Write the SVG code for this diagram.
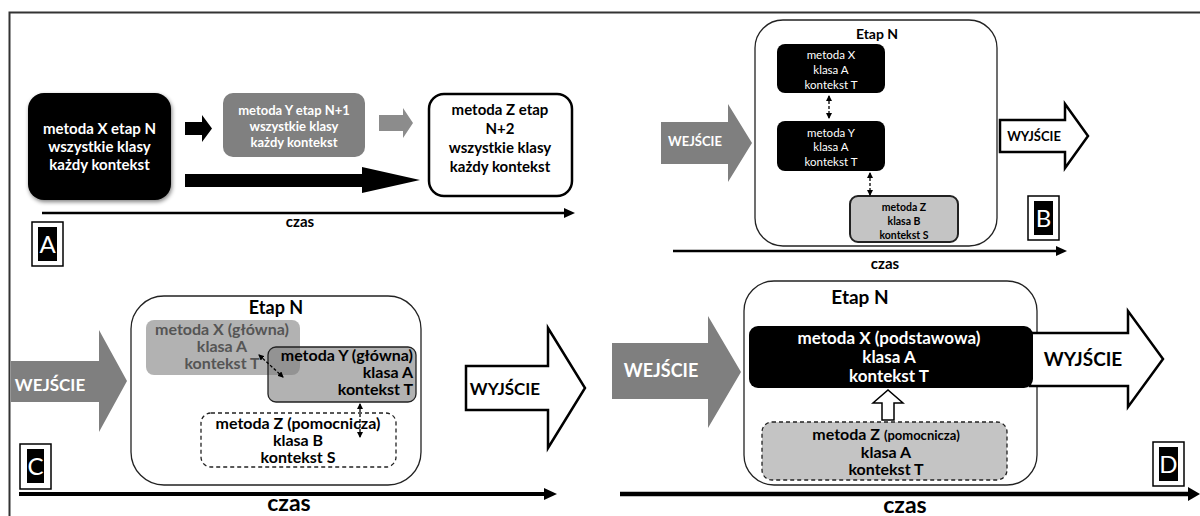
<svg xmlns="http://www.w3.org/2000/svg" width="1200" height="516" viewBox="0 0 1200 516">
<defs>
<style>
text{font-family:Lato,"Liberation Sans",sans-serif;text-anchor:middle}
.b{font-weight:bold}
.w{fill:#fff}
.g{fill:#555}
.frame{stroke:#333;stroke-width:2;fill:none}
.axis{stroke:#000;fill:none}
.cont{fill:#fff;stroke:#222;stroke-width:1.3}
.lo{fill:#fff;stroke:#000;stroke-width:1.5}
.li{fill:#000}
.lt{fill:#fff;font-family:Lato,"Liberation Sans",sans-serif;font-size:24px;font-weight:normal}
.dash{stroke:#000;stroke-width:1.3;stroke-dasharray:3 2;fill:none}
.gray{fill:#7f7f7f}
.out{fill:#fff;stroke:#000;stroke-width:2.5;stroke-linejoin:miter}
</style>
<marker id="dh" viewBox="0 0 6 6" refX="5" refY="3" markerWidth="6" markerHeight="6" markerUnits="userSpaceOnUse" orient="auto-start-reverse">
<path d="M0,0 L6,3 L0,6 z" fill="#000"/>
</marker>
<filter id="sh" x="-10%" y="-10%" width="130%" height="130%">
<feGaussianBlur in="SourceAlpha" stdDeviation="2"/>
<feOffset dx="1" dy="2"/>
<feComponentTransfer><feFuncA type="linear" slope="0.5"/></feComponentTransfer>
<feMerge><feMergeNode/><feMergeNode in="SourceGraphic"/></feMerge>
</filter>
</defs>

<rect width="1200" height="516" fill="#fff"/>
<path class="frame" d="M9.5,516 L9.5,12.5 L1200,12.5"/>

<!-- Panel A -->
<g id="a-x">
<rect x="28" y="93" width="143" height="107" rx="16" fill="#000" filter="url(#sh)"/>
<text class="b w" font-size="15"><tspan x="99.5" y="134">metoda X etap N</tspan><tspan x="99.5" y="152">wszystkie klasy</tspan><tspan x="99.5" y="170">każdy kontekst</tspan></text>
</g>
<g id="a-y">
<rect x="223" y="93" width="142" height="64" rx="10" fill="#808080"/>
<text class="b w" font-size="13"><tspan x="294" y="114.5">metoda Y etap N+1</tspan><tspan x="294" y="130.5">wszystkie klasy</tspan><tspan x="294" y="146.5">każdy kontekst</tspan></text>
</g>
<g id="a-z">
<rect x="429" y="94" width="143" height="102" rx="15" fill="#fff" stroke="#000" stroke-width="2.5"/>
<text class="b" font-size="15"><tspan x="500" y="115">metoda Z etap</tspan><tspan x="500" y="134">N+2</tspan><tspan x="500" y="153">wszystkie klasy</tspan><tspan x="500" y="172">każdy kontekst</tspan></text>
</g>
<g id="a-label">
<rect class="lo" x="32" y="222" width="31" height="44"/>
<rect class="li" x="38" y="227" width="19" height="34"/>
<text class="lt" x="47.5" y="253">A</text>
</g>

<!-- Panel B -->
<g id="b-stage">
<rect class="cont" x="755" y="20" width="242" height="226" rx="28"/>
<text class="b" font-size="14" x="877" y="39">Etap N</text>
</g>
<g id="b-x">
<rect x="777" y="44" width="108" height="49" rx="8" fill="#000"/>
<text class="w" font-size="11.5"><tspan x="831" y="59">metoda X</tspan><tspan x="831" y="74">klasa A</tspan><tspan x="831" y="89">kontekst T</tspan></text>
</g>
<g id="b-y">
<rect x="777" y="121" width="108" height="50" rx="8" fill="#000"/>
<text class="w" font-size="11.5"><tspan x="831" y="137">metoda Y</tspan><tspan x="831" y="151">klasa A</tspan><tspan x="831" y="166">kontekst T</tspan></text>
</g>
<g id="b-z">
<rect x="850" y="196" width="108" height="46" rx="8" fill="#c4c4c4" stroke="#222" stroke-width="2"/>
<text class="b" font-size="10.5"><tspan x="904" y="211">metoda Z</tspan><tspan x="904" y="225">klasa B</tspan><tspan x="904" y="239">kontekst S</tspan></text>
</g>
<g id="b-in">
<polygon class="gray" points="661,122 728,122 728,104 752,143 728,182 728,164 661,164"/>
<text class="b w" font-size="13" x="695" y="146">WEJŚCIE</text>
</g>
<g id="b-out">
<polygon class="out" points="1000,120 1065,120 1065,104 1088,136 1065,168 1065,152 1000,152"/>
<text class="b" font-size="13" x="1034" y="141">WYJŚCIE</text>
</g>
<g id="b-label">
<rect class="lo" x="1028" y="196" width="31" height="44"/>
<rect class="li" x="1034" y="201" width="19" height="34"/>
<text class="lt" x="1043.5" y="227">B</text>
</g>

<!-- Panel C -->
<g id="c-stage">
<rect class="cont" x="131" y="296" width="290" height="189" rx="33"/>
<text class="b" font-size="18" x="276" y="314">Etap N</text>
</g>
<g id="c-x">
<rect x="146" y="320" width="154" height="55" rx="8" fill="#7f7f7f" fill-opacity="0.6"/>
</g>
<g id="c-y">
<rect x="268" y="347" width="148" height="55" rx="8" fill="#7f7f7f" fill-opacity="0.6" stroke="#222" stroke-width="1.3"/>
<text class="b" font-size="16" style="text-anchor:end"><tspan x="413" y="361">metoda Y (główna)</tspan><tspan x="413" y="378">klasa A</tspan><tspan x="413" y="395">kontekst T</tspan></text>
</g>
<g id="c-x-text">
<text class="b g" font-size="16"><tspan x="222" y="335">metoda X (główna)</tspan><tspan x="222" y="352">klasa A</tspan><tspan x="222" y="369">kontekst T</tspan></text>
</g>
<g id="c-z">
<rect x="201" y="413" width="195" height="54" rx="10" fill="#fff" stroke="#222" stroke-width="1.3" stroke-dasharray="4 3"/>
<text class="b" font-size="16"><tspan x="298" y="429">metoda Z (pomocnicza)</tspan><tspan x="298" y="446">klasa B</tspan><tspan x="298" y="463">kontekst S</tspan></text>
</g>
<g id="c-in">
<polygon class="gray" points="11,361 99,361 99,330 127,381 99,432 99,402 11,402"/>
<text class="b w" font-size="17" x="50" y="391">WEJŚCIE</text>
</g>
<g id="c-out">
<polygon class="out" points="466,366 548,366 548,328 585,388 548,448 548,410 466,410"/>
<text class="b" font-size="17" x="505" y="395">WYJŚCIE</text>
</g>
<g id="c-label">
<rect class="lo" x="20" y="444" width="31" height="45"/>
<rect class="li" x="27" y="449" width="17" height="34"/>
<text class="lt" x="35.5" y="475">C</text>
</g>

<!-- Panel D -->
<g id="d-stage">
<rect class="cont" x="744" y="281" width="293" height="204" rx="30"/>
<text class="b" font-size="19" x="860" y="304">Etap N</text>
</g>
<g id="d-out">
<polygon class="out" points="1030,333 1128,333 1128,311 1163,359 1128,407 1128,386 1030,386"/>
<text class="b" font-size="19" x="1083" y="366">WYJŚCIE</text>
</g>
<g id="d-x">
<rect x="749" y="326" width="284" height="62" rx="9" fill="#000"/>
<text class="b w" font-size="17"><tspan x="889" y="344">metoda X (podstawowa)</tspan><tspan x="889" y="363">klasa A</tspan><tspan x="889" y="382">kontekst T</tspan></text>
</g>
<g id="d-z">
<rect x="762" y="422" width="245" height="58" rx="10" fill="#c4c4c4" stroke="#222" stroke-width="1.3" stroke-dasharray="4 3"/>
<text class="b" font-size="16"><tspan x="886" y="440">metoda Z <tspan font-size="13">(pomocnicza)</tspan></tspan><tspan x="886" y="457.5">klasa A</tspan><tspan x="886" y="475">kontekst T</tspan></text>
</g>
<g id="d-in">
<polygon class="gray" points="612,343 708,343 708,316 741,372 708,428 708,399 612,399"/>
<text class="b w" font-size="18" x="661" y="377">WEJŚCIE</text>
</g>
<g id="d-label">
<rect class="lo" x="1153" y="442" width="31" height="44"/>
<rect class="li" x="1159" y="447" width="19" height="34"/>
<text class="lt" x="1168.5" y="473">D</text>
</g>

<!-- connectors -->
<g id="connectors">
<polygon points="185,122 202,122 202,115 212,128.5 202,142 202,135 185,135" fill="#000"/>
<polygon points="379,115 403,115 403,108 413,123 403,138 403,131 379,131" fill="#8c8c8c"/>
<polygon points="185,174 362,174 362,167 420,180 362,193 362,187 185,187" fill="#000"/>
<line class="axis" x1="42" y1="213" x2="566" y2="213" stroke-width="2.5"/>
<polygon points="564,208 575,213 564,218" fill="#000"/>
<line class="dash" x1="829" y1="96" x2="829" y2="118" marker-start="url(#dh)" marker-end="url(#dh)"/>
<line class="dash" x1="870" y1="173" x2="870" y2="195" marker-start="url(#dh)" marker-end="url(#dh)"/>
<line class="axis" x1="673" y1="251" x2="1058" y2="251" stroke-width="2.5"/>
<polygon points="1056,246 1067,251 1056,256" fill="#000"/>
<line class="dash" x1="259" y1="355" x2="283" y2="377" marker-start="url(#dh)" marker-end="url(#dh)"/>
<line class="dash" x1="360" y1="404" x2="360" y2="437" marker-start="url(#dh)" marker-end="url(#dh)"/>
<line class="axis" x1="19" y1="494" x2="546" y2="494" stroke-width="4"/>
<polygon points="544,488 557,494 544,500" fill="#000"/>
<polygon points="882,420 882,403 873,403 888,390 903,403 894,403 894,420" fill="#fff" stroke="#000" stroke-width="1.5"/>
<line class="axis" x1="620" y1="494" x2="1190" y2="494" stroke-width="4.5"/>
<polygon points="1188,487 1200,494 1188,501" fill="#000"/>
</g>

<text class="b" font-size="15" x="300" y="227">czas</text>
<text class="b" font-size="15" x="885" y="269">czas</text>
<text class="b" font-size="23" x="289" y="511">czas</text>
<text class="b" font-size="23" x="905" y="513">czas</text>
</svg>
